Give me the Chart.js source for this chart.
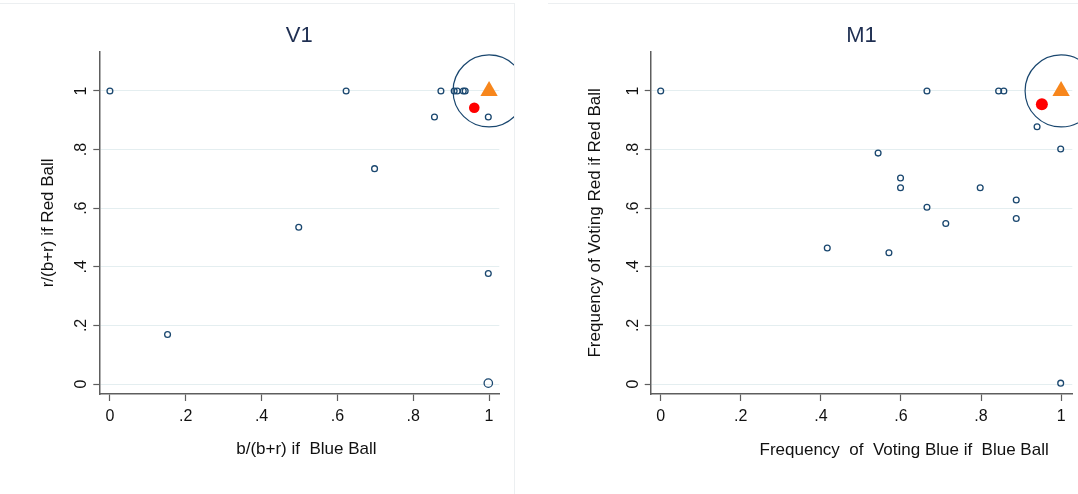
<!DOCTYPE html>
<html>
<head>
<meta charset="utf-8">
<script src="https://cdn.jsdelivr.net/npm/chart.js@4.4.1/dist/chart.umd.min.js"></script>
<style>
  html, body { margin: 0; padding: 0; background: #fff; }
  body { position: relative; width: 1078px; height: 494px; overflow: hidden; }
  canvas { position: absolute; top: 0; }
  #v1 { left: 0; }
  #m1 { left: 540px; }
  .frame { position: absolute; background: #eceff1; }
</style>
</head>
<body>
<div class="frame" style="left:0;top:3px;width:514px;height:1px"></div>
<div class="frame" style="left:514px;top:3px;width:1px;height:491px"></div>
<div class="frame" style="left:548px;top:3px;width:530px;height:1px"></div>
<canvas id="v1" width="514" height="494"></canvas>
<canvas id="m1" width="538" height="494"></canvas>
<script>
// tick values / labels (Stata style, no leading zero)
const tickValues = [0, 0.2, 0.4, 0.6, 0.8, 1];
const tickLabels = ['0', '.2', '.4', '.6', '.8', '1'];

// V1 panel
const v1X = [0, 0.623, 0.873, 0.908, 0.916, 0.932, 0.937, 0.856, 0.998, 0.698, 0.498, 0.152, 0.998];
const v1Y = [1, 1, 1, 1, 1, 1, 1, 0.911, 0.911, 0.735, 0.535, 0.169, 0.377];
const v1LargeX = [0.998];
const v1LargeY = [0.003];
const v1MeanX = [0.961];
const v1MeanY = [0.943];

// M1 panel
const m1X = [0, 0.665, 0.844, 0.857, 0.940, 0.999, 0.543, 0.599, 0.599, 0.798, 0.888, 0.888, 0.665, 0.712, 0.416, 0.570, 0.999];
const m1Y = [1, 1, 1, 1, 0.878, 0.802, 0.788, 0.703, 0.670, 0.670, 0.628, 0.565, 0.603, 0.548, 0.464, 0.448, 0.003];
const m1MeanX = [0.952];
const m1MeanY = [0.955];

// predicted point (both panels)
const targetX = [1];
const targetY = [1];

const navy = '#1a476f';
const axisColor = '#5e5e5e';
const gridColor = '#e4eef0';

Chart.defaults.font.family = '"Liberation Sans", Arial, sans-serif';

function pts(xs, ys) {
  return xs.map((x, i) => ({ x: x, y: ys[i] }));
}

function scatterChart(id, o) {
  return new Chart(document.getElementById(id), {
    type: 'scatter',
    data: {
      datasets: [
        { data: pts(targetX, targetY), pointStyle: 'triangle', pointRadius: 10,
          backgroundColor: '#f7861c', borderColor: '#f7861c', borderWidth: 0, clip: false },
        { data: pts(targetX, targetY), pointRadius: 2.6,
          backgroundColor: '#2e7d32', borderColor: '#2e7d32', borderWidth: 0, clip: false },
        { data: pts(o.meanX, o.meanY), pointRadius: o.meanR,
          backgroundColor: '#ff0000', borderColor: '#ff0000', borderWidth: 0, clip: false },
        { data: pts(targetX, targetY), pointRadius: 36,
          backgroundColor: 'rgba(0,0,0,0)', borderColor: navy, borderWidth: 1.2, clip: false },
        { data: pts(o.xs, o.ys), pointRadius: 2.9,
          backgroundColor: 'rgba(0,0,0,0)', borderColor: navy, borderWidth: 1.3, clip: false },
        { data: pts(o.bigX, o.bigY), pointRadius: 4.2,
          backgroundColor: 'rgba(0,0,0,0)', borderColor: navy, borderWidth: 1.3, clip: false }
      ]
    },
    options: {
      responsive: false,
      animation: false,
      devicePixelRatio: 1,
      events: [],
      layout: { autoPadding: false, padding: { left: 0, top: 0, right: o.padRight, bottom: 0 } },
      plugins: {
        legend: { display: false },
        tooltip: { enabled: false },
        title: {
          display: true, text: o.title, fullSize: false, color: '#1f2f52',
          font: { size: 22, weight: 'normal' },
          padding: { top: 22.8, bottom: 2.5 }
        }
      },
      scales: {
        x: {
          type: 'linear', min: o.xMin, max: o.xMax,
          afterBuildTicks: s => { s.ticks = tickValues.map(v => ({ value: v })); },
          afterFit: s => { s.height = 100; s.paddingLeft = 0; s.paddingRight = 0; },
          grid: { drawOnChartArea: false, drawTicks: true, tickLength: 7, tickColor: axisColor, tickWidth: 1.2 },
          border: { color: axisColor, width: 1.5 },
          ticks: {
            padding: 6.1, color: '#111', font: { size: 16 }, autoSkip: false,
            minRotation: 0, maxRotation: 0,
            callback: (v, i) => tickLabels[i]
          },
          title: {
            display: true, text: o.xTitle, align: o.xAlign, color: '#111',
            font: { size: 17 }, padding: { top: 0, bottom: o.xTitlePad }
          }
        },
        y: {
          type: 'linear', min: -0.034, max: 1.134,
          afterBuildTicks: s => { s.ticks = tickValues.map(v => ({ value: v })); },
          afterFit: s => { s.width = o.yWidth; s.paddingTop = 0; s.paddingBottom = 0; },
          grid: { color: gridColor, lineWidth: 1, drawTicks: true, tickLength: 6, tickColor: axisColor, tickWidth: 1.2 },
          border: { color: axisColor, width: 1.5 },
          ticks: {
            padding: 4.9, color: '#111', font: { size: 16 }, autoSkip: false,
            minRotation: 90, maxRotation: 90, crossAlign: 'center',
            callback: (v, i) => tickLabels[i]
          },
          title: {
            display: true, text: o.yTitle, color: '#111',
            font: { size: 17 }, padding: { top: o.yTitlePad, bottom: 0 }
          }
        }
      }
    }
  });
}

scatterChart('v1', {
  title: 'V1',
  xs: v1X, ys: v1Y, bigX: v1LargeX, bigY: v1LargeY,
  meanX: v1MeanX, meanY: v1MeanY, meanR: 5.3,
  xMin: -0.028, xMax: 1.027,
  padRight: 14.7, yWidth: 99.3,
  xTitle: '   b/(b+r) if  Blue Ball', xAlign: 'center', xTitlePad: 34.5,
  yTitle: 'r/(b+r) if Red Ball', yTitlePad: 37.8
});

scatterChart('m1', {
  title: 'M1',
  xs: m1X, ys: m1Y, bigX: [], bigY: [],
  meanX: m1MeanX, meanY: m1MeanY, meanR: 6,
  xMin: -0.025, xMax: 1.028,
  padRight: 5.7, yWidth: 110.7,
  xTitle: 'Frequency  of  Voting Blue if  Blue Ball     ', xAlign: 'end', xTitlePad: 33,
  yTitle: 'Frequency of Voting Red if Red Ball', yTitlePad: 44.8
});
</script>
</body>
</html>
